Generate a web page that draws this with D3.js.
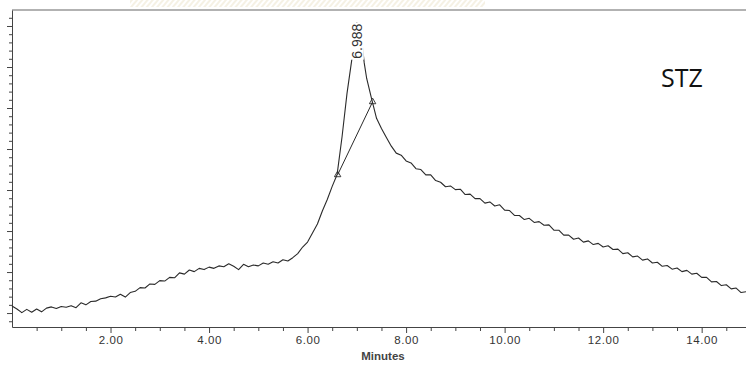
<!DOCTYPE html>
<html><head><meta charset="utf-8">
<script src="https://cdn.jsdelivr.net/npm/d3@7"></script>
<style>html,body{margin:0;padding:0;background:#fff;}svg{display:block;}</style>
</head><body>
<svg id="c" width="746" height="365"></svg>
<script>
// ---- data (minutes, response) ----
const trace = [
[0.0,11.7],[0.1,11.0],[0.2,10.1],[0.3,10.9],[0.4,10.2],[0.5,11.0],[0.6,10.3],[0.7,11.2],[0.8,11.5],[0.9,11.1],
[1.0,11.6],[1.1,11.4],[1.2,11.8],[1.3,11.3],[1.4,12.5],[1.5,12.0],[1.6,12.8],[1.7,12.9],[1.8,13.5],[1.9,13.7],
[2.0,14.1],[2.1,13.9],[2.2,14.6],[2.3,13.9],[2.4,15.0],[2.5,15.3],[2.6,16.2],[2.7,16.1],[2.8,17.1],[2.9,17.0],
[3.0,17.9],[3.1,17.8],[3.2,18.7],[3.3,18.6],[3.4,19.8],[3.5,19.5],[3.6,20.5],[3.7,20.1],[3.8,20.9],[3.9,20.6],
[4.0,21.2],[4.1,20.9],[4.2,21.5],[4.3,21.3],[4.4,22.0],[4.5,21.4],[4.6,20.6],[4.7,21.9],[4.8,21.3],[4.9,21.7],
[5.0,21.5],[5.1,22.2],[5.2,21.9],[5.3,22.5],[5.4,22.2],[5.5,23.0],[5.6,22.7],[5.7,23.5],[5.8,24.5],[5.9,26.1],
[6.0,27.3],[6.1,29.5],[6.2,31.7],[6.3,34.9],[6.4,37.7],[6.5,40.9],[6.6,43.8],[6.7,53.0],[6.8,63.5],[6.9,72.0],
[6.95,78.0],[7.0,80.8],[7.05,79.8],[7.1,76.5],[7.15,71.0],[7.2,67.2],[7.3,62.2],[7.4,57.5],[7.5,55.0],[7.6,52.8],[7.7,50.7],
[7.8,49.0],[7.9,48.5],[8.0,47.1],[8.1,46.6],[8.2,45.2],[8.3,45.0],[8.4,43.7],[8.5,43.7],[8.6,42.3],[8.7,41.9],
[8.8,40.8],[8.9,41.0],[9.0,40.1],[9.1,40.2],[9.2,38.9],[9.3,39.0],[9.4,37.9],[9.5,37.9],[9.6,36.8],[9.7,37.1],
[9.8,36.1],[9.9,36.4],[10.0,35.1],[10.1,35.0],[10.2,33.8],[10.3,33.8],[10.4,32.8],[10.5,33.1],[10.6,32.1],[10.7,32.3],
[10.8,31.4],[10.9,31.5],[11.0,30.2],[11.1,30.2],[11.2,29.0],[11.3,29.0],[11.4,28.0],[11.5,28.3],[11.6,27.3],[11.7,27.6],
[11.8,26.7],[11.9,27.0],[12.0,26.1],[12.1,26.4],[12.2,25.5],[12.3,25.6],[12.4,24.5],[12.5,24.7],[12.6,23.7],[12.7,23.9],
[12.8,22.9],[12.9,23.2],[13.0,22.2],[13.1,22.4],[13.2,21.4],[13.3,21.6],[13.4,20.7],[13.5,21.0],[13.6,20.1],[13.7,20.4],
[13.8,19.5],[13.9,19.7],[14.0,18.7],[14.1,18.7],[14.2,17.6],[14.3,17.7],[14.4,16.7],[14.5,16.9],[14.6,15.9],[14.7,16.1],
[14.8,15.0],[14.9,15.2]
];
const peakBaseline = [[6.61,43.7],[7.32,61.5]];
const peakLabel = {t:7.0, text:"6.988"};
const xMajorTicks = [2,4,6,8,10,12,14];
const xMinorTicks = [0.5,1,1.5,2.5,3,3.5,4.5,5,5.5,6.5,7,7.5,8.5,9,9.5,10.5,11,11.5,12.5,13,13.5,14.5];
const yMajorTicks = [10,20,30,40,50,60,70,80];
const yMinorTicks = [8,12,14,16,18,22,24,26,28,32,34,36,38,42,44,46,48,52,54,56,58,62,64,66,68,72,74,76,78,82];
const xTitle = "Minutes";
const sampleName = "STZ";

// ---- scales ----
const svg = d3.select("#c");
const x = d3.scaleLinear().domain([0,14.9]).range([12,746]);
const y = d3.scaleLinear().domain([6.6,83.9]).range([327,10]);

// faint watermark band at top
const defs = svg.append("defs");
const pat = defs.append("pattern").attr("id","hatch").attr("width",4).attr("height",4)
  .attr("patternUnits","userSpaceOnUse").attr("patternTransform","rotate(40)");
pat.append("rect").attr("width",2).attr("height",4).attr("fill","#e3d6b2");
svg.append("rect").attr("x",130).attr("y",0).attr("width",355).attr("height",7)
  .attr("fill","url(#hatch)").attr("opacity",0.35);

// top frame line
svg.append("line").attr("x1",x(0)).attr("x2",746).attr("y1",y(83.9)).attr("y2",y(83.9))
  .attr("stroke","#666").attr("stroke-width",1.2);

// x axis
const gx = svg.append("g").attr("transform",`translate(0,${y(6.6)})`);
gx.call(d3.axisBottom(x).tickValues(xMajorTicks).tickSize(6).tickSizeOuter(0).tickPadding(3)
  .tickFormat(d3.format(".2f")));
const gxm = svg.append("g").attr("transform",`translate(0,${y(6.6)})`);
gxm.call(d3.axisBottom(x).tickValues(xMinorTicks).tickSize(4).tickSizeOuter(0).tickFormat(""));
gxm.select(".domain").remove();
[gx,gxm].forEach(g=>{
  g.selectAll("path,line").attr("stroke","#444");
});
gx.selectAll("text").attr("fill","#333").style("font-family","Liberation Sans, Arial, sans-serif")
  .style("font-size","11.5px").style("letter-spacing","0.6px");

// y axis
const gy = svg.append("g").attr("transform",`translate(${x(0)},0)`);
gy.call(d3.axisLeft(y).tickValues(yMajorTicks).tickSize(5).tickSizeOuter(0).tickFormat(""));
const gym = svg.append("g").attr("transform",`translate(${x(0)},0)`);
gym.call(d3.axisLeft(y).tickValues(yMinorTicks).tickSize(3).tickSizeOuter(0).tickFormat(""));
gym.select(".domain").remove();
[gy,gym].forEach(g=>g.selectAll("path,line").attr("stroke","#444"));

// x title
svg.append("text").attr("x",383).attr("y",360).attr("text-anchor","middle")
  .style("font-family","Liberation Sans, Arial, sans-serif").style("font-size","11.5px")
  .style("font-weight","bold").attr("fill","#444").text(xTitle);

// trace
const line = d3.line().x(d=>x(d[0])).y(d=>y(d[1]));
svg.append("path").datum(trace).attr("d",line).attr("fill","none")
  .attr("stroke","#2a2a2a").attr("stroke-width",1.1).attr("stroke-linejoin","round");

// integration baseline
svg.append("path").datum(peakBaseline).attr("d",line).attr("fill","none")
  .attr("stroke","#2a2a2a").attr("stroke-width",1);
svg.selectAll(".mk").data(peakBaseline).enter().append("path")
  .attr("transform",d=>`translate(${x(d[0])},${y(d[1])})`)
  .attr("d",d3.symbol().type(d3.symbolTriangle).size(18))
  .attr("fill","none").attr("stroke","#2a2a2a").attr("stroke-width",0.9);

// peak label (white background behind to hide apex)
const peakY = trace.find(d=>d[0]===peakLabel.t)[1];
const lblT = `translate(${x(peakLabel.t)+5},${y(peakY)+36}) rotate(-90)`;
const bgRect = svg.append("rect").attr("transform",lblT).attr("fill","#fff");
const lbl = svg.append("text")
  .attr("transform",lblT)
  .attr("text-anchor","start")
  .style("font-family","Liberation Sans, Arial, sans-serif").style("font-size","14px")
  .attr("fill","#333").text(peakLabel.text);
const bb = lbl.node().getBBox();
bgRect.attr("x",bb.x-1).attr("y",bb.y+2).attr("width",bb.width+2).attr("height",bb.height-3);

// sample name
svg.append("text").attr("x",661).attr("y",87)
  .style("font-family","Open Sans, Noto Sans, sans-serif").style("font-size","25px")
  .attr("fill","#111").text(sampleName);
</script>
</body></html>
